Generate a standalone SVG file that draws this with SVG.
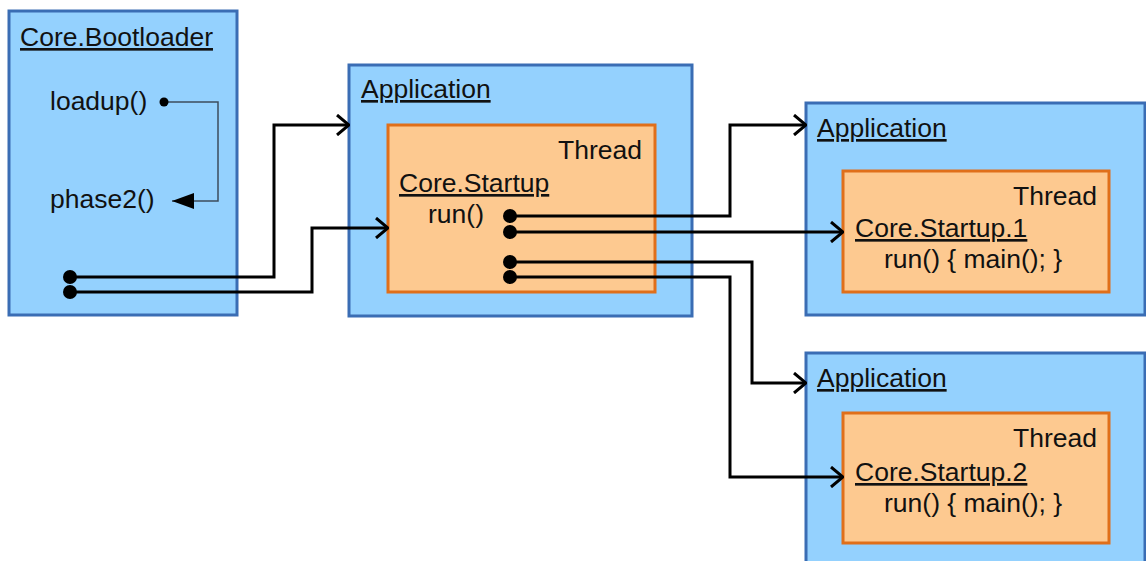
<svg xmlns="http://www.w3.org/2000/svg" width="1146" height="561" viewBox="0 0 1146 561">
<defs>
<style>
.app{fill:#94D1FE;stroke:#3A6DB4;stroke-width:3}
.thr{fill:#FDC990;stroke:#E06F1A;stroke-width:3}
text{font-family:"Liberation Sans",Arial,sans-serif;font-size:26.5px;fill:#111}
.u{text-decoration:underline}
.c{fill:none;stroke:#000;stroke-width:3}
.thin{fill:none;stroke:#3C4C5C;stroke-width:1.5}
</style>
<marker id="open" viewBox="0 0 14 22" refX="13" refY="11" markerWidth="14" markerHeight="22" markerUnits="userSpaceOnUse" orient="auto">
<path d="M1,1 L13,11 L1,21" fill="none" stroke="#000" stroke-width="3"/>
</marker>
<marker id="fill" viewBox="0 0 22 16" refX="22" refY="8" markerWidth="22" markerHeight="16" markerUnits="userSpaceOnUse" orient="auto">
<path d="M22,8 L0,0 L0,16 Z" fill="#000"/>
</marker>
</defs>
<g id="bootloader">
<rect class="app" x="9" y="11" width="228" height="304"/>
<text class="u" x="20" y="46">Core.Bootloader</text>
<text x="50" y="110">loadup()</text>
<text x="50" y="208">phase2()</text>
</g>
<g id="app1">
<rect class="app" x="349" y="65" width="343" height="251"/>
<text class="u" x="361" y="98">Application</text>
<g id="thread1">
<rect class="thr" x="388" y="125" width="267" height="167"/>
<text x="642" y="159" text-anchor="end">Thread</text>
<text class="u" x="399" y="192">Core.Startup</text>
<text x="428" y="223">run()</text>
</g>
</g>
<g id="app2">
<rect class="app" x="806" y="103" width="339" height="212"/>
<text class="u" x="817" y="137">Application</text>
<g id="thread2">
<rect class="thr" x="843" y="171" width="266" height="121"/>
<text x="1097" y="205" text-anchor="end">Thread</text>
<text class="u" x="855" y="237">Core.Startup.1</text>
<text x="884" y="268">run() { main(); }</text>
</g>
</g>
<g id="app3">
<rect class="app" x="806" y="353" width="339" height="220"/>
<text class="u" x="817" y="387">Application</text>
<g id="thread3">
<rect class="thr" x="843" y="413" width="266" height="130"/>
<text x="1097" y="447" text-anchor="end">Thread</text>
<text class="u" x="855" y="481">Core.Startup.2</text>
<text x="884" y="512">run() { main(); }</text>
</g>
</g>
<g id="connectors">
<path class="thin" d="M164,102 H218 V201 H172" marker-end="url(#fill)"/>
<circle cx="164" cy="102" r="4.5" fill="#000"/>
<path class="c" d="M70,277 H274 V125 H349" marker-end="url(#open)"/>
<path class="c" d="M70,292 H312 V228 H388" marker-end="url(#open)"/>
<path class="c" d="M510,216 H730 V125 H806" marker-end="url(#open)"/>
<path class="c" d="M510,232 H843" marker-end="url(#open)"/>
<path class="c" d="M510,262 H752 V383 H806" marker-end="url(#open)"/>
<path class="c" d="M510,277 H730 V477 H843" marker-end="url(#open)"/>
<circle cx="70" cy="277" r="7"/>
<circle cx="70" cy="292" r="7"/>
<circle cx="510" cy="216" r="7"/>
<circle cx="510" cy="232" r="7"/>
<circle cx="510" cy="262" r="7"/>
<circle cx="510" cy="277" r="7"/>
</g>
</svg>
